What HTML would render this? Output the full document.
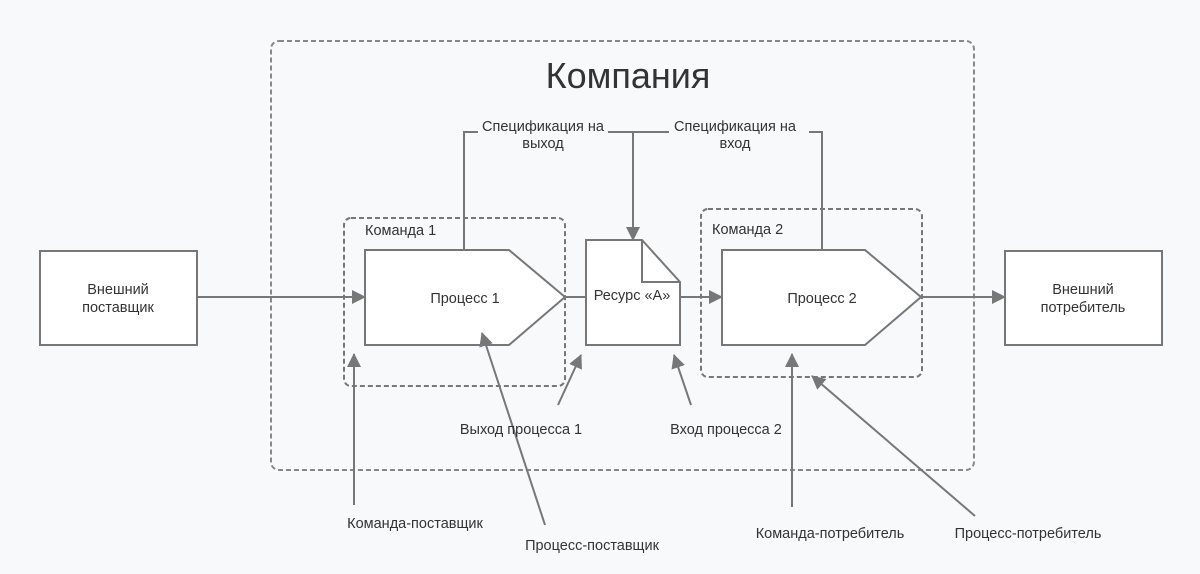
<!DOCTYPE html>
<html><head><meta charset="utf-8"><style>
body{margin:0;background:#f8f9fa;}
svg{display:block;font-family:"Liberation Sans","DejaVu Sans",sans-serif;}
text{fill:#333;}
</style></head><body>
<svg width="1200" height="574" viewBox="0 0 1200 574" xmlns="http://www.w3.org/2000/svg">
<defs>
<marker id="b" markerWidth="14" markerHeight="14" refX="13" refY="7" orient="auto" markerUnits="userSpaceOnUse"><path d="M0,0 L14,7 L0,14 z" fill="#777"/></marker>
</defs>
<rect width="1200" height="574" fill="#f8f9fa"/>
<rect x="271" y="41" width="703" height="429" rx="8" fill="none" stroke="#888" stroke-width="2" stroke-dasharray="5,3"/>
<text x="628" y="88" font-size="36" text-anchor="middle" fill="#444">Компания</text>
<g stroke="#777" stroke-width="2" fill="none">
<rect x="344" y="218" width="221" height="168" rx="7" stroke-dasharray="5,3"/>
<rect x="701" y="209" width="221" height="168" rx="7" stroke-dasharray="5,3"/>
<rect x="40" y="251" width="157" height="94" fill="#fff"/>
<rect x="1005" y="251" width="157" height="94" fill="#fff"/>
<path d="M365,250 L509,250 L565,297 L509,345 L365,345 Z" fill="#fff"/>
<path d="M722,250 L865,250 L921,297 L865,345 L722,345 Z" fill="#fff"/>
<path d="M586,240 L642,240 L680,282 L680,345 L586,345 Z" fill="#fff"/>
<path d="M642,240 L642,282 L680,282"/>
<path d="M464,250 L464,132 L478,132"/>
<path d="M608,132 L669,132"/>
<path d="M633,132 L633,240" marker-end="url(#b)"/>
<path d="M809,132 L822,132 L822,250"/>
<path d="M197,297 L365,297" marker-end="url(#b)"/>
<path d="M565,297 L586,297"/>
<path d="M680,297 L722,297" marker-end="url(#b)"/>
<path d="M921,297 L1005,297" marker-end="url(#b)"/>
<path d="M354,505 L354,354" marker-end="url(#b)"/>
<path d="M545,525 L482,333" marker-end="url(#b)"/>
<path d="M558,405 L581,355" marker-end="url(#b)"/>
<path d="M691,405 L674,355" marker-end="url(#b)"/>
<path d="M792,507 L792,354" marker-end="url(#b)"/>
<path d="M975,516 L812,376" marker-end="url(#b)"/>
</g>
<g font-size="14.5" text-anchor="middle">
<text x="118" y="294">Внешний</text>
<text x="118" y="312">поставщик</text>
<text x="1083" y="294">Внешний</text>
<text x="1083" y="312">потребитель</text>
<text x="465" y="303">Процесс 1</text>
<text x="822" y="303">Процесс 2</text>
<text x="632" y="300">Ресурс «А»</text>
<text x="543" y="131">Спецификация на</text>
<text x="543" y="148">выход</text>
<text x="735" y="131">Спецификация на</text>
<text x="735" y="148">вход</text>
<text x="521" y="434">Выход процесса 1</text>
<text x="726" y="434">Вход процесса 2</text>
<text x="415" y="528">Команда-поставщик</text>
<text x="592" y="550">Процесс-поставщик</text>
<text x="830" y="538">Команда-потребитель</text>
<text x="1028" y="538">Процесс-потребитель</text>
</g>
<g font-size="14.5">
<text x="365" y="235">Команда 1</text>
<text x="712" y="234">Команда 2</text>
</g>
</svg>
</body></html>
